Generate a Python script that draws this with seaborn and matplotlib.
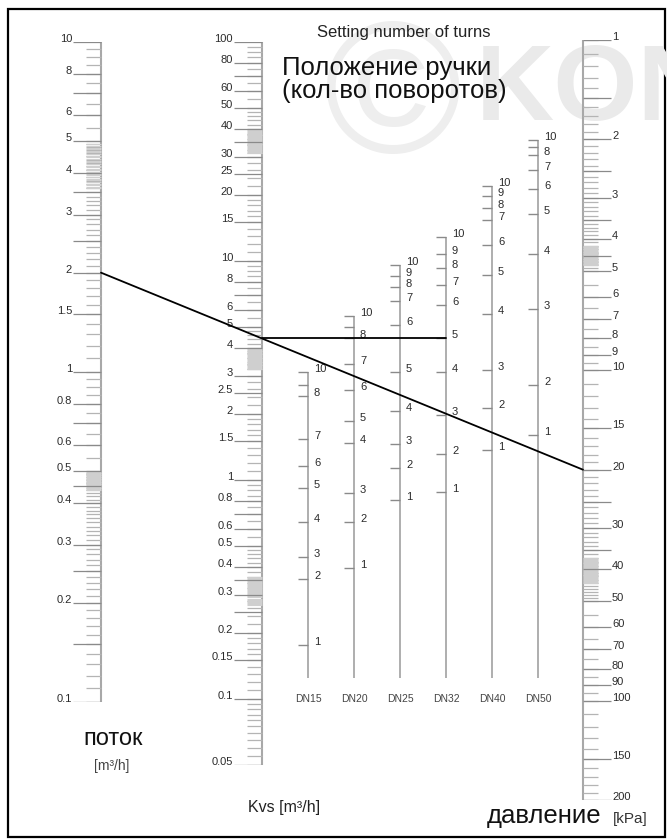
import numpy as np
import matplotlib
matplotlib.use("Agg")
import matplotlib.pyplot as plt
from matplotlib.patches import Rectangle
import seaborn as sns

# Flow scale [m3/h] (left)
FLOW_LABELS = [0.1, 0.2, 0.3, 0.4, 0.5, 0.6, 0.8, 1, 1.5, 2, 3, 4, 5, 6, 8, 10]
FLOW_LONG = [0.15, 0.25, 0.45, 0.7, 2.5, 3.5, 7]
FLOW_DENSE = [(0.44, 0.5), (3.6, 4.9)]

# Kvs scale [m3/h]
KVS_LABELS = [0.05, 0.1, 0.15, 0.2, 0.3, 0.4, 0.5, 0.6, 0.8, 1, 1.5, 2, 2.5, 3,
              4, 5, 6, 8, 10, 15, 20, 25, 30, 40, 50, 60, 80, 100]
KVS_LONG = [0.25, 0.35, 0.7, 7, 35, 70]
KVS_DENSE = [(0.27, 0.36), (3.2, 4.0), (31, 40)]

# Pressure drop scale [kPa] (right)
DP_LABELS = [1, 2, 3, 4, 5, 6, 7, 8, 9, 10, 15, 20, 30, 40, 50, 60, 70, 80, 90, 100, 150, 200]
DP_LONG = [1.5, 2.5, 3.5, 4.5, 25, 35]
DP_DENSE = [(4.2, 4.8), (37, 44)]

# Valve handle setting (turns 1..10) -> Kvs, per valve size
DN_NAMES = ["DN15", "DN20", "DN25", "DN32", "DN40", "DN50"]
TURNS = [1, 2, 3, 4, 5, 6, 7, 8, 9, 10]
DN15_KVS = [0.177, 0.353, 0.445, 0.643, 0.92, 1.16, 1.54, 2.42, 2.72, 3.11]
DN20_KVS = [0.396, 0.643, 0.873, 1.48, 1.86, 2.58, 3.39, 4.45, 5.0, 5.61]
DN25_KVS = [0.811, 1.13, 1.46, 2.07, 3.11, 5.10, 6.57, 7.60, 8.54, 9.59]
DN32_KVS = [0.882, 1.31, 1.98, 3.11, 4.47, 6.30, 7.77, 9.29, 10.8, 12.9]
DN40_KVS = [1.37, 2.13, 3.18, 5.73, 8.63, 11.8, 15.4, 17.5, 19.8, 22.0]
DN50_KVS = [1.60, 2.72, 6.04, 10.8, 16.4, 21.3, 26.0, 30.5, 33.2, 35.7]
DN_UNLABELED = [[9], [9], [], [], [], [9]]
DN_BOTTOM_KVS = 0.125

# Worked example: 2 m3/h at 20 kPa -> DN32, 5 turns
EXAMPLE_FLOW = 2.0
EXAMPLE_DP = 20.0
EXAMPLE_DN = "DN32"

W, H = 667, 839
AXIS_COLOR = "#a8a8a8"
MAJOR_COLOR = "#8a8a8a"
MINOR_COLOR = "#b4b4b4"
DENSE_COLOR = "#cfcfcf"
LABEL_COLOR = "#2b2b2b"
MAJOR_LEN, MINOR_LEN = 28, 15

# mantissa steps inside one decade
STEPS_WIDE = np.concatenate([np.arange(1, 2, 0.1), np.arange(2, 5, 0.1), np.arange(5, 10, 0.5)])
STEPS_TIGHT = np.concatenate([np.arange(1, 2, 0.1), np.arange(2, 5, 0.2), np.arange(5, 10, 0.5)])

sns.set_theme(style="white")
plt.rcParams["font.family"] = ["Liberation Sans", "DejaVu Sans"]

fig = plt.figure(figsize=(W / 100, H / 100), dpi=100)


def overlay():
    ax = fig.add_axes([0, 0, 1, 1])
    ax.set_xlim(0, W)
    ax.set_ylim(H, 0)
    ax.axis("off")
    return ax


def scale_axes(x_px, top_px, bottom_px, lo, hi, invert=False, width_px=140):
    # 1 x-unit = 1 pixel, y is a log scale between top_px and bottom_px
    ax = fig.add_axes([(x_px - width_px / 2) / W, 1 - bottom_px / H,
                       width_px / W, (bottom_px - top_px) / H])
    ax.set_xlim(-width_px / 2, width_px / 2)
    ax.set_yscale("log")
    ax.set_ylim((hi, lo) if invert else (lo, hi))
    ax.axis("off")
    return ax


def graduations(lo, hi, steps):
    marks = []
    decade = 10.0 ** np.floor(np.log10(lo))
    while decade < hi:
        for m in steps:
            v = round(m * decade, 8)
            if lo <= v <= hi:
                marks.append(v)
        decade *= 10
    return marks


def dense_marks(ranges, n=28):
    out = []
    for a, b in ranges:
        out.extend(np.geomspace(a, b, n))
    return out


def draw_scale(ax, labels, longs, dense, steps, side):
    s = -1 if side == "left" else 1
    lo, hi = min(labels), max(labels)
    ax.plot([0, 0], [lo, hi], color=AXIS_COLOR, lw=1.5, solid_capstyle="butt")
    ax.hlines(graduations(lo, hi, steps), 0, s * MINOR_LEN, color=MINOR_COLOR, lw=0.9)
    ax.hlines(dense_marks(dense), 0, s * MINOR_LEN, color=DENSE_COLOR, lw=0.8)
    ax.hlines(longs, 0, s * MAJOR_LEN, color=MAJOR_COLOR, lw=0.9)
    ax.hlines(labels, 0, s * MAJOR_LEN, color=MAJOR_COLOR, lw=0.9)
    for v in labels:
        ax.text(s * (MAJOR_LEN + 1), v, f"{v:g}", ha="right" if s < 0 else "left",
                va="baseline", fontsize=8, color=LABEL_COLOR)


# background: watermark and frame
ax_bg = overlay()
frame = Rectangle((8, 9), 657, 828, fill=False, lw=1.6, edgecolor="black")
ax_bg.add_patch(frame)
mark_c = ax_bg.text(392, 104, "\u00a9", fontsize=135, color="#eeeeee", ha="center", va="center")
mark_k = ax_bg.text(476, 120, "KON", fontsize=78, fontweight="bold", color="#eaeaea",
                    ha="left", va="baseline")
mark_k.set_clip_path(frame)

# main scales
ax_q = scale_axes(101, 42, 702, 0.1, 10)
draw_scale(ax_q, FLOW_LABELS, FLOW_LONG, FLOW_DENSE, STEPS_WIDE, "left")

ax_k = scale_axes(262, 42, 765, 0.05, 100)
draw_scale(ax_k, KVS_LABELS, KVS_LONG, KVS_DENSE, STEPS_TIGHT, "left")

ax_p = scale_axes(583, 40, 800, 1, 200, invert=True)
draw_scale(ax_p, DP_LABELS, DP_LONG, DP_DENSE, STEPS_WIDE, "right")

# valve setting scales, on the same Kvs mapping
dn_values = [DN15_KVS, DN20_KVS, DN25_KVS, DN32_KVS, DN40_KVS, DN50_KVS]
dn_x = [308, 354, 400, 446, 492, 538]
dn_axes = {}
for name, x, kvs, skip in zip(DN_NAMES, dn_x, dn_values, DN_UNLABELED):
    ax = scale_axes(x, 42, 765, 0.05, 100, width_px=60)
    ax.plot([0, 0], [DN_BOTTOM_KVS, kvs[-1]], color=AXIS_COLOR, lw=1.3, solid_capstyle="butt")
    ax.hlines(kvs, -10, 0, color=MAJOR_COLOR, lw=1.0)
    for t, v in zip(TURNS, kvs):
        if t in skip:
            continue
        ax.text(6, v, str(t), ha="left", va="baseline", fontsize=8, color=LABEL_COLOR)
    ax.text(0, 0.1, name, ha="center", va="center", fontsize=7.5, color="#444444")
    dn_axes[name] = ax

# foreground: example lines and captions
ax_fg = overlay()


def to_fg(ax, y):
    return ax_fg.transData.inverted().transform(ax.transData.transform((0, y)))


kvs_example = EXAMPLE_FLOW / np.sqrt(EXAMPLE_DP / 100.0)
p_flow = to_fg(ax_q, EXAMPLE_FLOW)
p_dp = to_fg(ax_p, EXAMPLE_DP)
p_kvs = to_fg(ax_k, kvs_example)
p_dn = to_fg(dn_axes[EXAMPLE_DN], kvs_example)

sns.lineplot(x=[p_flow[0], p_dp[0]], y=[p_flow[1], p_dp[1]], ax=ax_fg,
             color="black", lw=1.3, sort=False)
sns.lineplot(x=[p_kvs[0], p_dn[0]], y=[p_kvs[1], p_dn[1]], ax=ax_fg,
             color="black", lw=1.3, sort=False)

ax_fg.text(317, 33, "Setting number of turns", fontsize=12, color="#222222", va="center")
ax_fg.text(282, 75, "Положение ручки", fontsize=18.5, color="#111111", va="baseline")
ax_fg.text(282, 98, "(кол-во поворотов)", fontsize=18.5, color="#111111", va="baseline")
ax_fg.text(113, 745, "поток", fontsize=17, color="#111111", ha="center", va="baseline")
ax_fg.text(112, 766, "[m³/h]", fontsize=10, color="#444444", ha="center", va="center")
ax_fg.text(248, 812, "Kvs [m³/h]", fontsize=11.5, color="#222222", va="baseline")
ax_fg.text(487, 823, "давление", fontsize=18.5, color="#111111", va="baseline")
ax_fg.text(613, 823, "[kPa]", fontsize=11, color="#333333", va="baseline")

fig.savefig("out.png", dpi=100)
